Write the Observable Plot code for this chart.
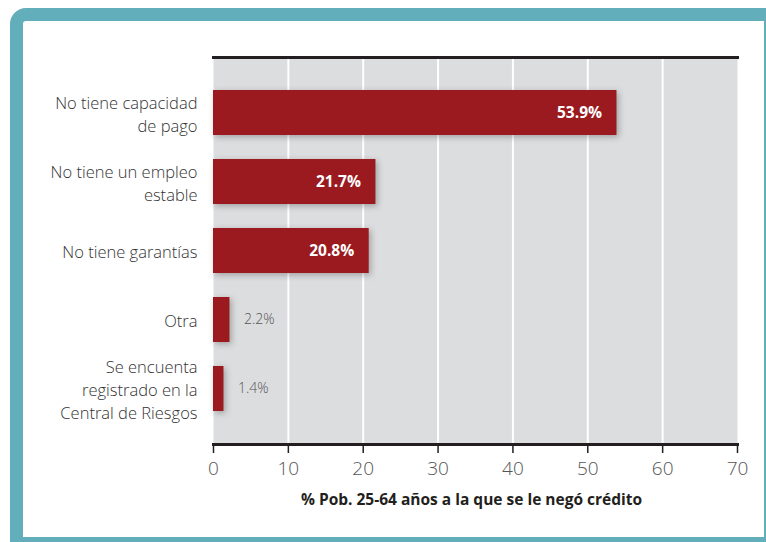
<!DOCTYPE html>
<html><head><meta charset="utf-8">
<script src="https://cdn.jsdelivr.net/npm/d3@7"></script>
<script src="https://cdn.jsdelivr.net/npm/@observablehq/plot@0.6"></script>
<style>
html,body{margin:0;padding:0;width:766px;height:542px;overflow:hidden;background:#fff;}
#frame{position:absolute;left:10px;top:8px;width:741px;height:516px;border:13px solid #63aebb;border-top-left-radius:16px;background:#fff;}
#chart{position:absolute;left:0;top:0;}
#chart g[aria-label="bar"]{filter:drop-shadow(2px 2px 3px rgba(0,0,0,0.28));}
</style></head><body>
<div id="frame"></div><div id="chart"></div>
<script>
const categories = ["No tiene capacidad\nde pago", "No tiene un empleo\nestable", "No tiene garantías", "Otra", "Se encuenta\nregistrado en la\nCentral de Riesgos"];
const values = [53.9, 21.7, 20.8, 2.2, 1.4];
const valueLabels = ["53.9%", "21.7%", "20.8%", "2.2%", "1.4%"];
const xTicks = [0, 10, 20, 30, 40, 50, 60, 70];
const xLabel = "% Pob. 25-64 años a la que se le negó crédito";

const data = categories.map((c, i) => ({category: c, value: values[i], label: valueLabels[i]}));

const chart = Plot.plot({
  width: 766, height: 542,
  marginLeft: 213, marginRight: 29, marginTop: 57, marginBottom: 98,
  style: {fontFamily: "'Open Sans', sans-serif", background: "transparent", overflow: "visible"},
  x: {domain: [0, 70], ticks: xTicks, label: null},
  y: {domain: categories, paddingInner: 0.346, paddingOuter: 0.446, label: null},
  marks: [
    Plot.frame({fill: "#dcdddf", stroke: null}),
    Plot.gridX(xTicks.slice(1, -1), {stroke: "#fff", strokeOpacity: 1, strokeWidth: 2}),
    Plot.barX(data, {x: "value", y: "category", fill: "#9a1a20"}),
    Plot.text(data, {filter: d => d.value > 10, x: "value", y: "category", text: "label", dx: -15, textAnchor: "end", fill: "#fff", fontWeight: "bold", fontSize: 15.5}),
    Plot.text(data, {filter: d => d.value < 10, x: "value", y: "category", text: "label", dx: 14, textAnchor: "start", fill: "#555", fontSize: 14, fontWeight: 300}),
    Plot.frame({anchor: "top", stroke: "#231f20", strokeWidth: 3}),
    Plot.frame({anchor: "bottom", stroke: "#231f20", strokeWidth: 3}),
    Plot.axisX({ticks: xTicks, tickSize: 9, tickPadding: 8, fontSize: 19, fill: "#555", stroke: "#231f20", strokeWidth: 1.5, fontWeight: 300, label: null}),
    Plot.axisY({tickSize: 0, tickPadding: 16, fontSize: 16.5, lineHeight: 1.4, fill: "#333", fontWeight: 300, label: null}),
    Plot.text([xLabel], {text: d => d, frameAnchor: "bottom", dy: 60, dx: -4, fontWeight: "bold", fontSize: 15.5, fill: "#231f20"})
  ]
});
document.getElementById("chart").appendChild(chart);
</script>
</body></html>
